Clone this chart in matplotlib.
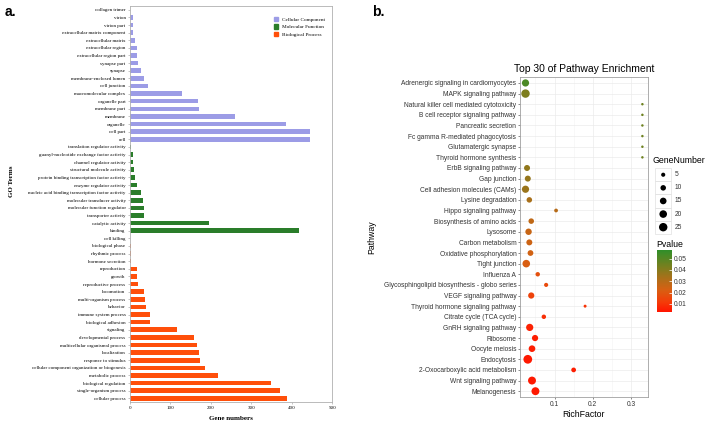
import numpy as np
import matplotlib
matplotlib.use("Agg")
import matplotlib.pyplot as plt
from matplotlib.patches import Patch, Rectangle
from matplotlib.colors import LinearSegmentedColormap, Normalize
from matplotlib.cm import ScalarMappable

# ---- panel a: GO terms (listed top to bottom) ----
cc_terms = ["collagen trimer", "virion", "virion part", "extracellular matrix component",
            "extracellular matrix", "extracellular region", "extracellular region part",
            "synapse part", "synapse", "membrane-enclosed lumen", "cell junction",
            "macromolecular complex", "organelle part", "membrane part", "membrane",
            "organelle", "cell part", "cell"]
cc_counts = [1, 7, 7, 7, 12, 19, 19, 21, 27, 36, 44, 130, 169, 172, 261, 386, 444, 444]

mf_terms = ["translation regulator activity", "guanyl-nucleotide exchange factor activity",
            "channel regulator activity", "structural molecule activity",
            "protein binding transcription factor activity", "enzyme regulator activity",
            "nucleic acid binding transcription factor activity", "molecular transducer activity",
            "molecular function regulator", "transporter activity", "catalytic activity", "binding"]
mf_counts = [2, 7, 9, 11, 13, 19, 27, 33, 35, 36, 196, 419]

bp_terms = ["cell killing", "biological phase", "rhythmic process", "hormone secretion",
            "reproduction", "growth", "reproductive process", "locomotion",
            "multi-organism process", "behavior", "immune system process",
            "biological adhesion", "signaling", "developmental process",
            "multicellular organismal process", "localization", "response to stimulus",
            "cellular component organization or biogenesis", "metabolic process",
            "biological regulation", "single-organism process", "cellular process"]
bp_counts = [1, 2, 2, 2, 17, 17, 21, 35, 37, 39, 49, 49, 116, 158, 165, 171, 174, 186,
             217, 349, 371, 388]

# ---- panel b: KEGG pathways (top to bottom) ----
pathways = ["Adrenergic signaling in cardiomyocytes", "MAPK signaling pathway",
            "Natural killer cell mediated cytotoxicity", "B cell receptor signaling pathway",
            "Pancreatic secretion", "Fc gamma R-mediated phagocytosis",
            "Glutamatergic synapse", "Thyroid hormone synthesis", "ErbB signaling pathway",
            "Gap junction", "Cell adhesion molecules (CAMs)", "Lysine degradation",
            "Hippo signaling pathway", "Biosynthesis of amino acids", "Lysosome",
            "Carbon metabolism", "Oxidative phosphorylation", "Tight junction",
            "Influenza A", "Glycosphingolipid biosynthesis - globo series",
            "VEGF signaling pathway", "Thyroid hormone signaling pathway",
            "Citrate cycle (TCA cycle)", "GnRH signaling pathway", "Ribosome",
            "Oocyte meiosis", "Endocytosis", "2-Oxocarboxylic acid metabolism",
            "Wnt signaling pathway", "Melanogenesis"]
rich_factor = [0.024, 0.024, 0.330, 0.330, 0.330, 0.330, 0.330, 0.330, 0.028, 0.030,
               0.024, 0.034, 0.104, 0.039, 0.032, 0.034, 0.037, 0.026, 0.056, 0.078,
               0.039, 0.180, 0.072, 0.035, 0.049, 0.041, 0.030, 0.150, 0.041, 0.050]
gene_number = [18, 25, 1, 1, 1, 1, 1, 1, 12, 12, 18, 10, 4, 10, 14, 12, 11, 20, 6, 5,
               13, 2, 6, 18, 13, 15, 27, 7, 22, 22]
pvalue = [0.052, 0.042, 0.045, 0.045, 0.045, 0.045, 0.045, 0.045, 0.038, 0.037, 0.036,
          0.033, 0.030, 0.028, 0.026, 0.025, 0.024, 0.022, 0.018, 0.016, 0.014, 0.010,
          0.009, 0.006, 0.005, 0.005, 0.004, 0.005, 0.004, 0.004]
legend_genes = [5, 10, 15, 20, 25]


def dot_size(g):
    # scatter area (pt^2) for a gene count
    return 1.8 + 1.4 * g


fig = plt.figure(figsize=(7.13, 4.26), dpi=100)

# ================= panel a =================
serif = ["Liberation Serif", "DejaVu Serif"]
axa = fig.add_axes([0.182, 0.056, 0.284, 0.930])
terms = cc_terms + mf_terms + bp_terms
counts = cc_counts + mf_counts + bp_counts
colors = (["#9c9ce6"] * len(cc_terms) + ["#2a7d2a"] * len(mf_terms)
          + ["#ff4f0a"] * len(bp_terms))
ypos = np.arange(len(terms))
axa.barh(ypos, counts, height=0.6, color=colors)
axa.set_ylim(len(terms) - 0.5, -0.5)
axa.set_xlim(0, 500)
axa.set_yticks(ypos)
axa.set_yticklabels(terms, fontsize=3.6, family=serif)
axa.set_xticks(np.arange(0, 501, 100))
axa.set_xticklabels([str(v) for v in range(0, 501, 100)], fontsize=3.6, family=serif)
axa.tick_params(axis="both", length=1.5, width=0.4, color="#999999", pad=1.5)
for s in axa.spines.values():
    s.set_color("#b0b0b0")
    s.set_linewidth(0.6)
axa.set_xlabel("Gene numbers", fontsize=5, fontweight="bold", family=serif, labelpad=4)
fig.text(0.016, 0.575, "GO Terms", fontsize=5, fontweight="bold", family=serif,
         rotation=90, ha="center", va="center")
handles = [Patch(color="#9c9ce6", label="Cellular Component"),
           Patch(color="#2a7d2a", label="Molecular Function"),
           Patch(color="#ff4f0a", label="Biological Process")]
axa.legend(handles=handles, loc="upper right", frameon=False,
           prop={"family": serif, "size": 3.8}, handlelength=0.9, handleheight=0.9,
           handletextpad=0.8, labelspacing=0.5, bbox_to_anchor=(0.99, 0.985))

fig.text(0.006, 0.972, "a.", fontsize=10, fontweight="bold", family="Liberation Sans",
         va="center")
fig.text(0.522, 0.972, "b.", fontsize=10, fontweight="bold", family="Liberation Sans",
         va="center")

# ================= panel b =================
sans = ["Liberation Sans", "DejaVu Sans"]
cmap = LinearSegmentedColormap.from_list(
    "pv", [(0.0, "#ff1500"), (0.15, "#f53a08"), (0.35, "#d85f12"), (0.55, "#a8701a"),
           (0.72, "#7a7f1e"), (1.0, "#2e8f2a")])
norm = Normalize(vmin=0.003, vmax=0.058)

axb = fig.add_axes([0.729, 0.068, 0.180, 0.751])
yb = np.arange(len(pathways))
axb.scatter(rich_factor, yb, s=[dot_size(g) for g in gene_number], c=pvalue,
            cmap=cmap, norm=norm, linewidths=0, zorder=3)
axb.set_xlim(0.009, 0.345)
axb.set_ylim(len(pathways) - 1 + 0.55, -0.55)
axb.set_yticks(yb)
axb.set_yticklabels(pathways, fontsize=4.8, family=sans, color="#333333")
axb.set_xticks([0.1, 0.2, 0.3])
axb.set_xticklabels(["0.1", "0.2", "0.3"], fontsize=4.8, family=sans, color="#333333")
axb.set_xticks([0.05, 0.15, 0.25], minor=True)
axb.grid(True, which="major", color="#ebebeb", linewidth=0.5, zorder=0)
axb.grid(True, which="minor", axis="x", color="#f3f3f3", linewidth=0.4, zorder=0)
axb.set_axisbelow(True)
axb.tick_params(axis="both", which="major", length=1.5, width=0.4, color="#333333", pad=1)
axb.tick_params(axis="both", which="minor", length=0)
for s in axb.spines.values():
    s.set_color("#a0a0a0")
    s.set_linewidth(0.6)
axb.set_title("Top 30 of Pathway Enrichment", fontsize=7.5, family=sans, pad=4)
axb.set_xlabel("RichFactor", fontsize=6.3, family=sans, labelpad=2)
axb.set_ylabel("Pathway", fontsize=6.3, family=sans)
axb.yaxis.set_label_coords(-1.12, 0.5)

# size legend, drawn in its own small axes (one row per key)
lax = fig.add_axes([0.915, 0.439, 0.082, 0.197])
lax.set_xlim(0, 1)
lax.set_ylim(len(legend_genes) + 0.9, -0.5)
lax.axis("off")
rows = np.arange(len(legend_genes)) + 1
for r in rows:
    lax.add_patch(Rectangle((0.05, r - 0.5), 0.27, 1.0, facecolor="white",
                            edgecolor="#d9d9d9", linewidth=0.4))
lax.scatter([0.185] * len(legend_genes), rows, s=[dot_size(g) for g in legend_genes],
            color="black", linewidths=0, zorder=3)
for r, g in zip(rows, legend_genes):
    lax.text(0.38, r, str(g), fontsize=4.8, family=sans, color="#333333", va="center")
lax.text(0.0, -0.1, "GeneNumber", fontsize=6.3, family=sans, va="center")

# colour bar
cax = fig.add_axes([0.921, 0.268, 0.021, 0.146])
cb = fig.colorbar(ScalarMappable(norm=norm, cmap=cmap), cax=cax,
                  ticks=[0.01, 0.02, 0.03, 0.04, 0.05])
cb.outline.set_visible(False)
cb.ax.tick_params(length=2, width=0.5, color="white", direction="in", pad=1.5,
                  labelsize=4.8)
for t in cb.ax.get_yticklabels():
    t.set_family(sans)
    t.set_color("#333333")
cax.set_title("Pvalue", fontsize=6.3, family=sans, loc="left", pad=2)

fig.savefig("out.png", dpi=100)
